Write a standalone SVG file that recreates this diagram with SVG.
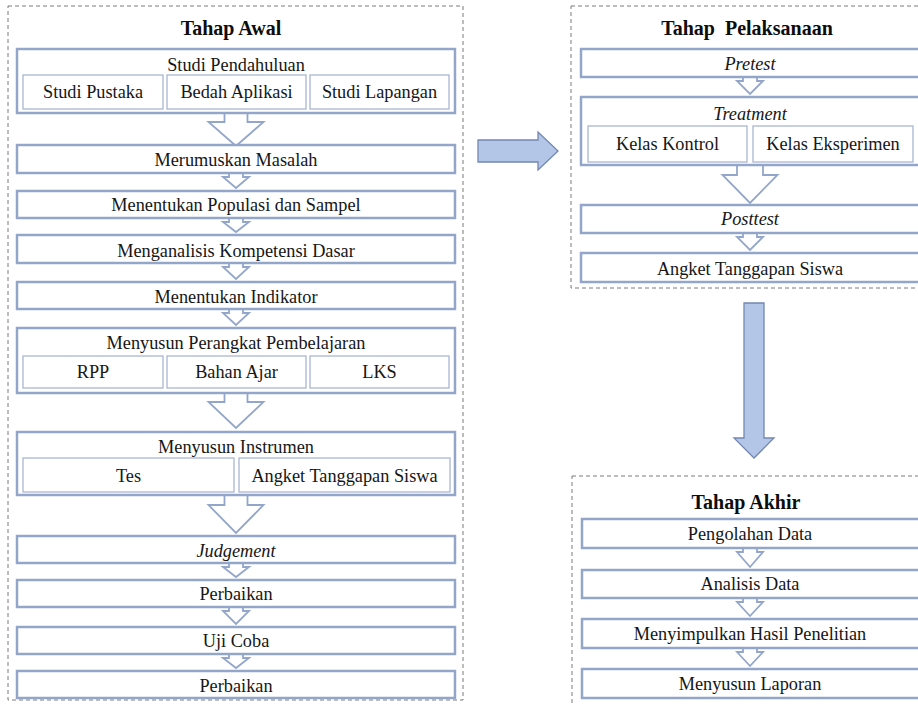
<svg xmlns="http://www.w3.org/2000/svg" width="918" height="706" viewBox="0 0 918 706">
<style>
.bg{fill:#ffffff}
.stage{fill:none;stroke:#7a7a7a;stroke-width:1;stroke-dasharray:4 3}
.box{fill:#ffffff;stroke:#93a6ca;stroke-width:2.5}
.sub{fill:#ffffff;stroke:#a9b7d3;stroke-width:1.3}
.conn{fill:#ffffff;stroke:#93a6ca;stroke-width:1.8;stroke-linejoin:miter}
.big{fill:#b4c6e7;stroke:#7288b2;stroke-width:1.3}
text{font-family:'Liberation Serif','Times New Roman',serif;font-size:18.3px;fill:#161616;text-anchor:middle}
.title{font-weight:bold;font-size:20px;fill:#0d0d0d}
.it{font-style:italic}
</style>
<rect class="bg" x="0" y="0" width="918" height="706"/>

<g id="stages">
  <rect class="stage" x="8" y="6" width="455" height="694"/>
  <rect class="stage" x="571" y="6" width="360" height="282"/>
  <rect class="stage" x="572" y="476" width="360" height="240"/>
</g>

<g id="connectors">
  <path class="conn" d="M224.5,112 L224.5,122 L208.5,122 L236,146 L263.5,122 L247.5,122 L247.5,112"/>
  <path class="conn" d="M229,172 L229,177 L223,177 L236,188 L249,177 L243,177 L243,172"/>
  <path class="conn" d="M229,217 L229,222 L223,222 L236,232 L249,222 L243,222 L243,217"/>
  <path class="conn" d="M229,262 L229,267 L223,267 L236,279 L249,267 L243,267 L243,262"/>
  <path class="conn" d="M229,308 L229,313 L223,313 L236,325 L249,313 L243,313 L243,308"/>
  <path class="conn" d="M224.5,392 L224.5,402 L208.5,402 L236,428 L263.5,402 L247.5,402 L247.5,392"/>
  <path class="conn" d="M224.5,494 L224.5,505 L208.5,505 L236,533 L263.5,505 L247.5,505 L247.5,494"/>
  <path class="conn" d="M229,562 L229,567 L223,567 L236,577 L249,567 L243,567 L243,562"/>
  <path class="conn" d="M229,606 L229,611 L223,611 L236,624 L249,611 L243,611 L243,606"/>
  <path class="conn" d="M229,653 L229,658 L223,658 L236,668 L249,658 L243,658 L243,653"/>
  <path class="conn" d="M743,76 L743,81 L737,81 L750,94 L763,81 L757,81 L757,76"/>
  <path class="conn" d="M737,164 L737,175 L722.5,175 L750,203 L777.5,175 L763,175 L763,164"/>
  <path class="conn" d="M743,232 L743,237 L737,237 L750,250 L763,237 L757,237 L757,232"/>
  <path class="conn" d="M743,547 L743,552 L737,552 L750,567 L763,552 L757,552 L757,547"/>
  <path class="conn" d="M743,597 L743,602 L737,602 L750,616 L763,602 L757,602 L757,597"/>
  <path class="conn" d="M743,647 L743,652 L737,652 L750,666 L763,652 L757,652 L757,647"/>
  <path class="big" d="M478,140 L538,140 L538,132 L558,151 L538,170 L538,162 L478,162 Z"/>
  <path class="big" d="M744,303 L764,303 L764,438 L774,438 L754,458 L734,438 L744,438 Z"/>
</g>

<g id="tahap-awal">
  <text class="title" x="231" y="35">Tahap Awal</text>
</g>
<g id="studi-pendahuluan">
  <rect class="box" x="17" y="49" width="438" height="64"/>
  <text x="236" y="71">Studi Pendahuluan</text>
  <rect class="sub" x="23" y="75" width="140" height="34"/>
  <text x="93" y="98">Studi Pustaka</text>
  <rect class="sub" x="167" y="75" width="139" height="34"/>
  <text x="236.5" y="98">Bedah Aplikasi</text>
  <rect class="sub" x="310" y="75" width="139" height="34"/>
  <text x="379.5" y="98">Studi Lapangan</text>
</g>
<g id="merumuskan">
  <rect class="box" x="17" y="145" width="438" height="28"/>
  <text x="236" y="166">Merumuskan Masalah</text>
</g>
<g id="populasi">
  <rect class="box" x="17" y="191" width="438" height="27"/>
  <text x="236" y="211">Menentukan Populasi dan Sampel</text>
</g>
<g id="kompetensi">
  <rect class="box" x="17" y="235" width="438" height="28"/>
  <text x="236" y="257">Menganalisis Kompetensi Dasar</text>
</g>
<g id="indikator">
  <rect class="box" x="17" y="282" width="438" height="27"/>
  <text x="236" y="303">Menentukan Indikator</text>
</g>
<g id="perangkat">
  <rect class="box" x="17" y="328" width="438" height="65"/>
  <text x="236" y="349">Menyusun Perangkat Pembelajaran</text>
  <rect class="sub" x="23" y="356" width="140" height="32"/>
  <text x="93" y="378">RPP</text>
  <rect class="sub" x="167" y="356" width="139" height="32"/>
  <text x="236.5" y="378">Bahan Ajar</text>
  <rect class="sub" x="310" y="356" width="139" height="32"/>
  <text x="379.5" y="378">LKS</text>
</g>
<g id="instrumen">
  <rect class="box" x="17" y="432" width="438" height="63"/>
  <text x="236" y="453">Menyusun Instrumen</text>
  <rect class="sub" x="23" y="458" width="211" height="34"/>
  <text x="128.5" y="482">Tes</text>
  <rect class="sub" x="239" y="458" width="211" height="34"/>
  <text x="344.5" y="482">Angket Tanggapan Siswa</text>
</g>
<g id="judgement">
  <rect class="box" x="17" y="536" width="438" height="27"/>
  <text class="it" x="236" y="557">Judgement</text>
</g>
<g id="perbaikan-1">
  <rect class="box" x="17" y="580" width="438" height="27"/>
  <text x="236" y="600">Perbaikan</text>
</g>
<g id="uji-coba">
  <rect class="box" x="17" y="627" width="438" height="27"/>
  <text x="236" y="647">Uji Coba</text>
</g>
<g id="perbaikan-2">
  <rect class="box" x="17" y="671" width="438" height="27"/>
  <text x="236" y="692">Perbaikan</text>
</g>

<g id="tahap-pelaksanaan">
  <text class="title" x="747" y="35" word-spacing="5">Tahap Pelaksanaan</text>
</g>
<g id="pretest">
  <rect class="box" x="581" y="49" width="345" height="28"/>
  <text class="it" x="750" y="70">Pretest</text>
</g>
<g id="treatment">
  <rect class="box" x="581" y="97" width="345" height="68"/>
  <text class="it" x="750" y="120">Treatment</text>
  <rect class="sub" x="588" y="126" width="159" height="36"/>
  <text x="667.5" y="150">Kelas Kontrol</text>
  <rect class="sub" x="753" y="126" width="160" height="36"/>
  <text x="833" y="150">Kelas Eksperimen</text>
</g>
<g id="posttest">
  <rect class="box" x="581" y="205" width="345" height="28"/>
  <text class="it" x="750" y="225">Posttest</text>
</g>
<g id="angket">
  <rect class="box" x="581" y="253" width="345" height="29"/>
  <text x="750" y="275">Angket Tanggapan Siswa</text>
</g>

<g id="tahap-akhir">
  <text class="title" x="746" y="509">Tahap Akhir</text>
</g>
<g id="pengolahan">
  <rect class="box" x="582" y="519" width="344" height="29"/>
  <text x="750" y="540">Pengolahan Data</text>
</g>
<g id="analisis">
  <rect class="box" x="582" y="570" width="344" height="28"/>
  <text x="750" y="590">Analisis Data</text>
</g>
<g id="menyimpulkan">
  <rect class="box" x="582" y="619" width="344" height="29"/>
  <text x="750" y="640">Menyimpulkan Hasil Penelitian</text>
</g>
<g id="laporan">
  <rect class="box" x="582" y="669" width="344" height="29"/>
  <text x="750" y="690">Menyusun Laporan</text>
</g>
</svg>
